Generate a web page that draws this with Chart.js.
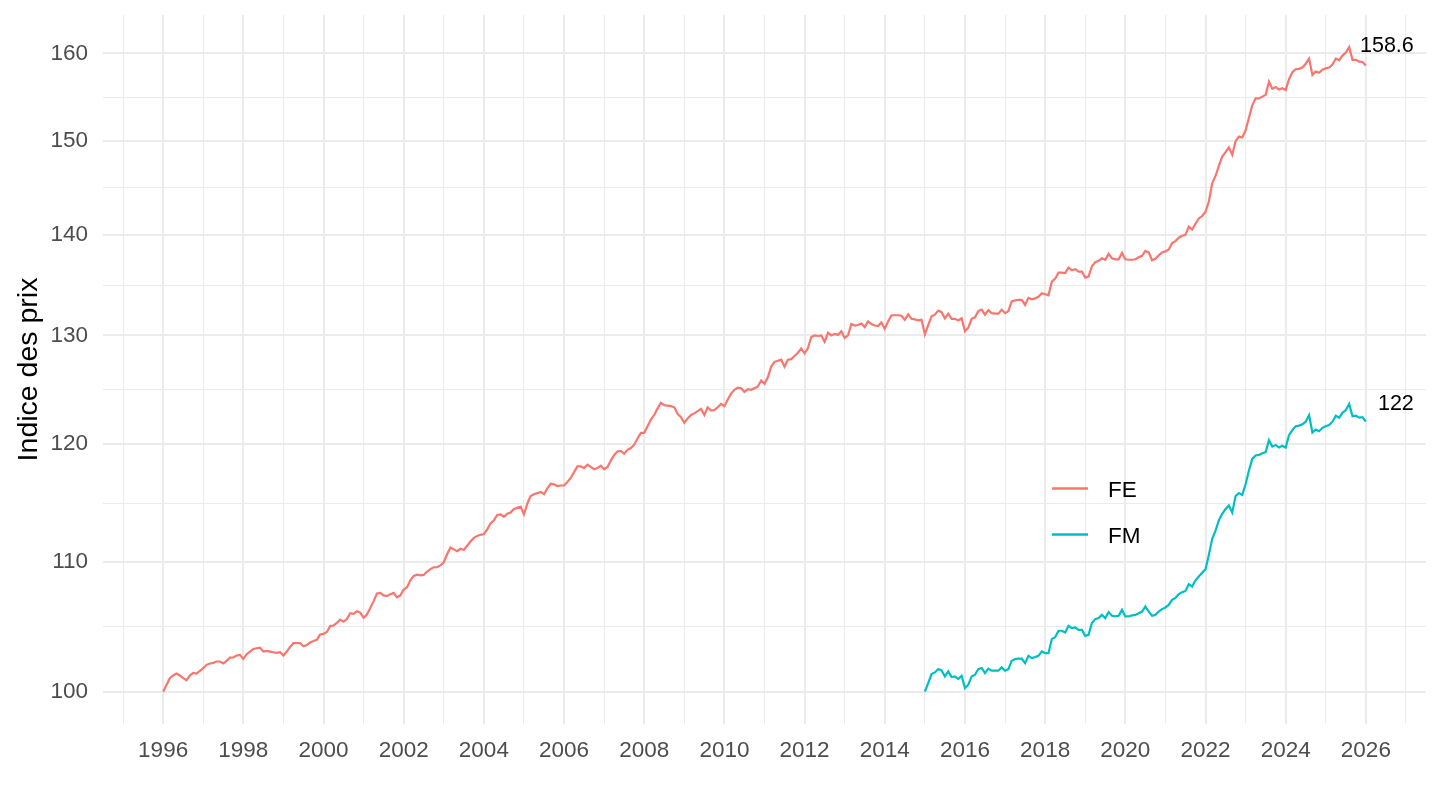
<!DOCTYPE html>
<html>
<head>
<meta charset="utf-8">
<script src="https://cdn.jsdelivr.net/npm/chart.js@4.4.1/dist/chart.umd.min.js"></script>
<style>
html,body{margin:0;padding:0;background:#ffffff;}
#wrap{width:1440px;height:810px;position:relative;}
</style>
</head>
<body>
<div id="wrap"><canvas id="c" width="1440" height="810"></canvas></div>
<script>
// ---------------- DATA ----------------
const seriesNames = ['FE', 'FM'];
const seriesColors = ['#F8766D', '#00BFC4'];
const feStartYear = 1996;   // monthly, from January
const fmStartYear = 2015;   // monthly, from January

const feValues = [
  // 1996
  100.0, 100.5, 101.0, 101.2, 101.35, 101.2, 101.0, 100.85, 101.2, 101.4, 101.35, 101.55,
  // 1997
  101.75, 102.0, 102.1, 102.15, 102.25, 102.25, 102.1, 102.3, 102.55, 102.55, 102.7, 102.75,
  // 1998
  102.45, 102.8, 103.0, 103.2, 103.25, 103.3, 103.0, 103.05, 103.0, 102.95, 102.9, 102.95,
  // 1999
  102.7, 103.0, 103.35, 103.65, 103.65, 103.65, 103.4, 103.5, 103.7, 103.8, 103.9, 104.3,
  // 2000
  104.35, 104.5, 104.95, 105.0, 105.2, 105.45, 105.3, 105.5, 105.95, 105.9, 106.1, 106.0,
  // 2001
  105.6, 105.85, 106.35, 106.9, 107.5, 107.55, 107.35, 107.3, 107.45, 107.55, 107.2, 107.35,
  // 2002
  107.8, 108.0, 108.55, 108.9, 109.0, 108.95, 108.98, 109.25, 109.45, 109.6, 109.6, 109.75,
  // 2003
  110.0, 110.65, 111.2, 111.05, 110.9, 111.1, 111.0, 111.35, 111.7, 112.0, 112.15, 112.25,
  // 2004
  112.3, 112.7, 113.2, 113.45, 113.9, 113.95, 113.75, 114.0, 114.1, 114.4, 114.5, 114.6,
  // 2005
  113.95, 114.85, 115.5, 115.65, 115.75, 115.85, 115.65, 116.15, 116.55, 116.5, 116.35, 116.4,
  // 2006
  116.4, 116.7, 117.05, 117.55, 118.05, 118.05, 117.9, 118.2, 118.0, 117.8, 117.9, 118.1,
  // 2007
  117.8, 118.0, 118.55, 119.05, 119.35, 119.4, 119.15, 119.5, 119.65, 119.95, 120.5, 121.0,
  // 2008
  121.0, 121.6, 122.2, 122.6, 123.2, 123.7, 123.5, 123.45, 123.4, 123.3, 122.7, 122.4,
  // 2009
  121.9, 122.3, 122.6, 122.75, 122.95, 123.15, 122.6, 123.3, 123.0, 123.05, 123.3, 123.6,
  // 2010
  123.4, 124.0, 124.55, 124.9, 125.1, 125.05, 124.7, 124.95, 124.9, 125.05, 125.2, 125.75,
  // 2011
  125.45, 126.05, 127.05, 127.5, 127.6, 127.7, 127.05, 127.7, 127.75, 128.05, 128.35, 128.75,
  // 2012
  128.3, 128.8, 129.85, 130.0, 129.95, 130.0, 129.4, 130.25, 130.0, 130.15, 130.05, 130.4,
  // 2013
  129.75, 130.0, 131.1, 130.95, 131.0, 131.15, 130.8, 131.35, 131.1, 130.95, 130.9, 131.25,
  // 2014
  130.65, 131.35, 131.95, 131.95, 131.95, 131.9, 131.5, 132.05, 131.6, 131.55, 131.45, 131.5,
  // 2015
  130.1, 131.0, 131.85, 132.0, 132.4, 132.25, 131.65, 132.1, 131.6, 131.6, 131.45, 131.65,
  // 2016
  130.4, 130.75, 131.6, 131.75, 132.35, 132.5, 132.0, 132.45, 132.15, 132.1, 132.1, 132.5,
  // 2017
  132.15, 132.35, 133.3, 133.4, 133.45, 133.45, 132.95, 133.65, 133.5, 133.6, 133.75, 134.1,
  // 2018
  134.0, 133.9, 135.25, 135.55, 136.15, 136.15, 136.1, 136.65, 136.4, 136.5, 136.25, 136.25,
  // 2019
  135.65, 135.75, 136.8, 137.2, 137.35, 137.6, 137.45, 138.05, 137.6, 137.5, 137.5, 138.15,
  // 2020
  137.5, 137.45, 137.45, 137.5, 137.7, 137.85, 138.35, 138.2, 137.4, 137.55, 137.9, 138.2,
  // 2021
  138.3, 138.5, 139.15, 139.35, 139.7, 139.9, 140.0, 140.85, 140.55, 141.15, 141.7, 141.95,
  // 2022
  142.4, 143.45, 145.4, 146.2, 147.3, 148.3, 148.8, 149.3, 148.5, 150.0, 150.5, 150.4,
  // 2023
  151.2, 152.6, 154.0, 154.8, 154.8, 155.0, 155.2, 156.7, 155.9, 156.1, 155.8, 155.95,
  // 2024
  155.75, 157.0, 157.8, 158.15, 158.2, 158.35, 158.8, 159.4, 157.5, 157.9, 157.75, 158.1,
  // 2025
  158.25, 158.35, 158.7, 159.4, 159.2, 159.75, 160.1, 160.75, 159.25, 159.25, 159.05, 159.0,
  // 2026
  158.6
];

const fmValues = [
  // 2015
  100.0, 100.64, 101.31, 101.43, 101.68, 101.58, 101.13, 101.51, 101.08, 101.13, 100.94, 101.18,
  // 2016
  100.27, 100.52, 101.13, 101.26, 101.68, 101.76, 101.38, 101.71, 101.56, 101.56, 101.56, 101.81,
  // 2017
  101.56, 101.68, 102.31, 102.43, 102.46, 102.46, 102.13, 102.68, 102.51, 102.58, 102.68, 103.01,
  // 2018
  102.88, 102.88, 103.95, 104.1, 104.59, 104.59, 104.46, 104.97, 104.79, 104.84, 104.66, 104.66,
  // 2019
  104.2, 104.28, 105.18, 105.49, 105.57, 105.82, 105.57, 106.04, 105.75, 105.7, 105.75, 106.21,
  // 2020
  105.7, 105.7, 105.78, 105.82, 105.95, 106.08, 106.47, 106.08, 105.75, 105.82, 106.08, 106.27,
  // 2021
  106.4, 106.6, 107.0, 107.15, 107.45, 107.6, 107.7, 108.25, 108.05, 108.55, 108.85, 109.15,
  // 2022
  109.44, 110.6, 111.9, 112.6, 113.45, 114.0, 114.4, 114.7, 114.1, 115.5, 115.75, 115.6,
  // 2023
  116.5, 117.7, 118.7, 119.0, 119.05, 119.2, 119.3, 120.35, 119.78, 119.93, 119.7, 119.86,
  // 2024
  119.69, 120.8, 121.25, 121.6, 121.65, 121.77, 122.0, 122.6, 121.03, 121.3, 121.15, 121.45,
  // 2025
  121.6, 121.7, 122.0, 122.54, 122.36, 122.8, 123.05, 123.6, 122.5, 122.55, 122.36, 122.4,
  // 2026
  122.0
];

const xLabelYears = [1996, 1998, 2000, 2002, 2004, 2006, 2008, 2010, 2012, 2014, 2016, 2018, 2020, 2022, 2024, 2026];
const yTickValues = [100, 110, 120, 130, 140, 150, 160];
const yAxisTitle = 'Indice des prix';

// ---------------- CHART ----------------
const FONT = '"Liberation Sans", Arial, Helvetica, sans-serif';

function toPoints(values, startYear) {
  return values.map((v, i) => ({ x: startYear + i / 12, y: v }));
}

const X_MIN = 1994.5, X_MAX = 2027.5;
const Y_MIN = 97.65, Y_MAX = 164.6;

// minor gridlines halfway (in log space) between major ticks
function yAllTicks() {
  const out = [];
  for (let i = 0; i < yTickValues.length; i++) {
    out.push({ value: yTickValues[i], major: true });
    if (i < yTickValues.length - 1) {
      const m = Math.sqrt(yTickValues[i] * yTickValues[i + 1]);
      out.push({ value: m, major: false });
    }
  }
  return out.filter(t => t.value >= Y_MIN && t.value <= Y_MAX);
}

const labelOffsets = [[21, -19.5], [30, -18]];

const overlay = {
  id: 'overlay',
  afterDatasetsDraw(chart) {
    const ctx = chart.ctx;
    ctx.save();
    // end-of-series labels
    chart.data.datasets.forEach((ds, i) => {
      const meta = chart.getDatasetMeta(i);
      const lastEl = meta.data[meta.data.length - 1];
      const lastVal = ds.data[ds.data.length - 1].y;
      ctx.font = '21.5px ' + FONT;
      ctx.fillStyle = '#000000';
      ctx.textAlign = 'center';
      ctx.textBaseline = 'middle';
      ctx.fillText(String(lastVal), lastEl.x + labelOffsets[i][0], lastEl.y + labelOffsets[i][1]);
    });
    // legend inside panel
    const lx0 = 1052, lx1 = 1088, tx = 1108, ly0 = 488.5, step = 46;
    chart.data.datasets.forEach((ds, i) => {
      const y = ly0 + step * i;
      ctx.strokeStyle = ds.borderColor;
      ctx.lineWidth = 2.4;
      ctx.beginPath();
      ctx.moveTo(lx0, y);
      ctx.lineTo(lx1, y);
      ctx.stroke();
      ctx.font = '22.5px ' + FONT;
      ctx.fillStyle = '#000000';
      ctx.textAlign = 'left';
      ctx.textBaseline = 'middle';
      ctx.fillText(ds.label, tx, y + 2);
    });
    ctx.restore();
  }
};

new Chart(document.getElementById('c'), {
  type: 'line',
  data: {
    datasets: [
      { label: seriesNames[0], data: toPoints(feValues, feStartYear), borderColor: seriesColors[0],
        borderWidth: 2.2, pointRadius: 0, tension: 0, fill: false },
      { label: seriesNames[1], data: toPoints(fmValues, fmStartYear), borderColor: seriesColors[1],
        borderWidth: 2.2, pointRadius: 0, tension: 0, fill: false }
    ]
  },
  options: {
    responsive: false,
    animation: false,
    devicePixelRatio: 1,
    layout: { padding: { left: 0, right: 14, top: 15, bottom: 0 } },
    plugins: { legend: { display: false }, tooltip: { enabled: false } },
    scales: {
      x: {
        type: 'linear',
        min: X_MIN, max: X_MAX,
        afterBuildTicks: (s) => {
          const t = [];
          for (let y = Math.ceil(X_MIN); y <= Math.floor(X_MAX); y++) t.push({ value: y });
          s.ticks = t;
        },
        ticks: {
          autoSkip: false, maxRotation: 0, minRotation: 0, padding: 13,
          color: '#4D4D4D', font: { family: FONT, size: 22.5 },
          callback: (v) => xLabelYears.includes(v) ? String(v) : ''
        },
        grid: {
          drawTicks: false, color: '#EBEBEB',
          lineWidth: (c) => (c.tick && xLabelYears.includes(c.tick.value)) ? 2 : 1
        },
        border: { display: false },
        afterFit: (s) => { s.height = 86; s.paddingLeft = 0; s.paddingRight = 0; }
      },
      y: {
        type: 'logarithmic',
        min: Y_MIN, max: Y_MAX,
        afterBuildTicks: (s) => { s.ticks = yAllTicks(); },
        ticks: {
          autoSkip: false, padding: 15,
          color: '#4D4D4D', font: { family: FONT, size: 22.5 },
          callback: (v) => yTickValues.includes(v) ? String(v) : ''
        },
        grid: {
          drawTicks: false, color: '#EBEBEB',
          lineWidth: (c) => (c.tick && yTickValues.includes(c.tick.value)) ? 2 : 1
        },
        border: { display: false },
        title: {
          display: true, text: yAxisTitle, color: '#000000',
          font: { family: FONT, size: 28.5 }, padding: { top: 12, bottom: 0 }
        },
        afterFit: (s) => { s.width = 103; s.paddingTop = 0; s.paddingBottom = 0; }
      }
    }
  },
  plugins: [overlay]
});
</script>
</body>
</html>
